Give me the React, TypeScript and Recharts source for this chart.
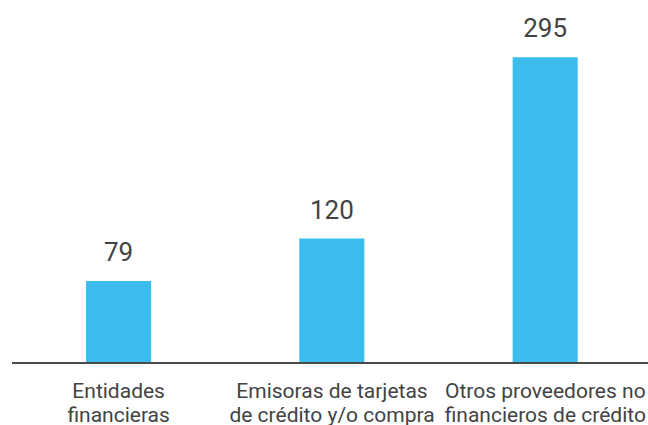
import React from "react";
import { BarChart, Bar, XAxis, YAxis, LabelList } from "recharts";

const categories = ["Entidades financieras", "Emisoras de tarjetas de crédito y/o compra", "Otros proveedores no financieros de crédito"];
const categoryLines = [
  ["Entidades", "financieras"],
  ["Emisoras de tarjetas", "de crédito y/o compra"],
  ["Otros proveedores no", "financieros de crédito"],
];
const values = [79, 120, 295];

const data = categories.map((c, i) => ({ name: c, value: values[i], idx: i }));

const FONT = "Roboto, 'Noto Sans', sans-serif";
const TEXT = "#434343";

const Tick = (props: any) => {
  const { x, y, index } = props;
  const lines = categoryLines[index] || [];
  return (
    <text x={x} y={y} textAnchor="middle" fill={TEXT} fontSize={21} fontFamily={FONT}>
      {lines.map((l, i) => (
        <tspan key={i} x={x} y={y + 35 + i * 24}>
          {l}
        </tspan>
      ))}
    </text>
  );
};

export default function App() {
  return (
    <div style={{ position: "absolute", left: 0, top: 0, width: 648, height: 425, overflow: "hidden", background: "#fff" }}>
      <BarChart width={652} height={425} data={data} margin={{ top: 52, right: 0, left: 12, bottom: 0 }} barCategoryGap={0}>
        <XAxis
          dataKey="name"
          height={62}
          interval={0}
          tickLine={false}
          tickSize={0}
          tickMargin={0}
          axisLine={{ stroke: "#4a4a4a", strokeWidth: 2 }}
          tick={<Tick />}
        />
        <YAxis hide domain={[0, 300]} />
        <Bar dataKey="value" fill="#3abdec" barSize={65} isAnimationActive={false}>
          <LabelList dataKey="value" position="top" offset={20} fill={TEXT} fontSize={26} fontFamily={FONT} />
        </Bar>
      </BarChart>
    </div>
  );
}
